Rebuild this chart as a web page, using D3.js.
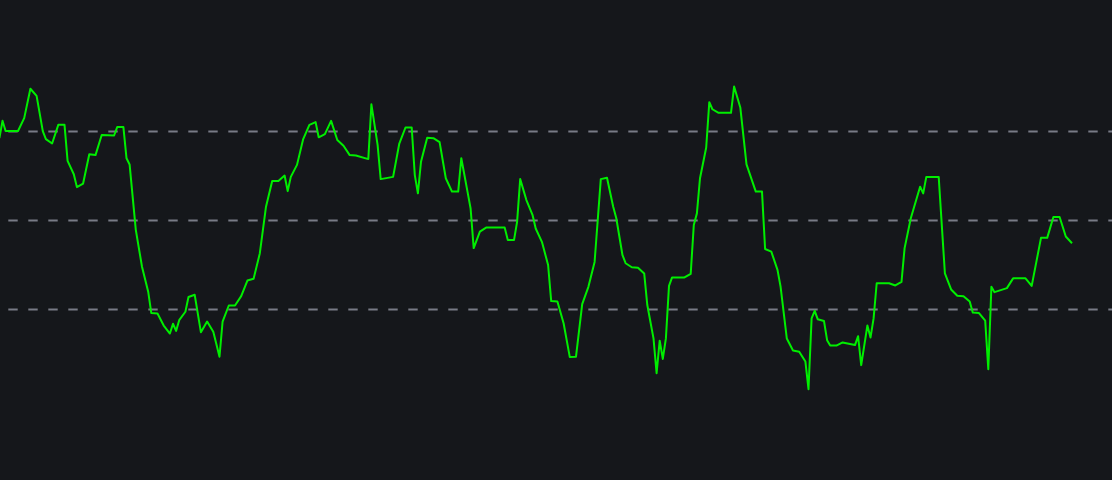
<!DOCTYPE html>
<html>
<head>
<meta charset="utf-8">
<script src="https://cdn.jsdelivr.net/npm/d3@7"></script>
<style>
  html, body { margin: 0; padding: 0; background: #15171b; overflow: hidden; }
  svg { display: block; }
</style>
</head>
<body>
<div id="chart"></div>
<script>
// RSI readings, keyed by bar number (only the turning points of the line)
const bars = [
  0, 1, 2, 6, 8, 10, 12, 14, 15, 17, 19, 21, 22, 24, 25, 27, 29, 31, 33, 37,
  38, 40, 41, 42, 44, 46, 48, 49, 51, 53, 55, 56, 57, 58, 60, 61, 63, 65, 67, 69,
  71, 72, 74, 76, 78, 80, 82, 84, 86, 88, 90, 92, 93, 94, 96, 98, 100, 102, 103, 105,
  107, 109, 111, 113, 115, 119, 120, 122, 123, 127, 129, 131, 133, 134, 135, 136, 138, 140, 142, 144,
  146, 148, 149, 151, 152, 153, 155, 157, 163, 164, 166, 167, 168, 170, 172, 173, 175, 177, 178, 180,
  182, 184, 186, 188, 190, 192, 194, 196, 198, 199, 201, 202, 204, 206, 208, 209, 211, 212, 213, 214,
  215, 216, 217, 221, 223, 224, 225, 226, 228, 229, 230, 232, 236, 237, 239, 241, 244, 246, 247, 249,
  251, 252, 254, 256, 258, 260, 261, 262, 263, 264, 266, 267, 268, 270, 272, 276, 277, 278, 280, 281,
  282, 283, 287, 289, 291, 292, 294, 297, 298, 299, 303, 305, 307, 309, 311, 313, 314, 316, 318, 319,
  320, 321, 325, 327, 331, 333, 336, 338, 340, 342, 344, 346
];
const rsi = [
  68.5, 72.4, 70.1, 70.1, 73.0, 79.6, 78.0, 70.1, 68.3, 67.3, 71.5, 71.5, 63.4, 60.4, 57.5, 58.3, 64.9, 64.7, 69.2, 69.1,
  71.0, 71.0, 64.0, 62.6, 47.9, 39.6, 34.0, 29.2, 29.1, 26.4, 24.6, 26.8, 25.2, 27.6, 29.5, 32.8, 33.3, 24.9, 27.3, 25.0,
  19.4, 27.3, 30.9, 30.9, 33.0, 36.5, 36.9, 42.6, 53.1, 58.9, 58.9, 60.1, 56.6, 59.8, 62.5, 68.3, 71.5, 72.1, 68.7, 69.4,
  72.4, 68.1, 66.8, 64.7, 64.6, 63.8, 76.1, 67.0, 59.3, 59.8, 67.3, 70.9, 70.9, 60.2, 56.1, 63.2, 68.6, 68.5, 67.6, 59.5,
  56.5, 56.5, 64.0, 56.5, 52.7, 43.8, 47.5, 48.4, 48.4, 45.6, 45.6, 49.7, 59.3, 54.6, 51.2, 48.2, 45.2, 40.0, 31.9, 31.8,
  26.9, 19.3, 19.4, 31.2, 35.1, 40.7, 59.3, 59.6, 53.1, 50.5, 42.2, 40.4, 39.5, 39.4, 38.1, 31.0, 23.5, 15.7, 23.0, 18.9,
  23.5, 35.3, 37.2, 37.2, 38.0, 49.0, 51.6, 59.5, 66.4, 76.6, 75.0, 74.2, 74.2, 80.1, 75.4, 62.6, 56.5, 56.5, 43.6, 43.0,
  38.9, 35.1, 23.5, 20.8, 20.5, 18.3, 12.1, 28.0, 29.7, 27.8, 27.4, 23.1, 21.9, 21.9, 22.6, 22.0, 24.0, 17.5, 26.4, 23.7,
  28.0, 35.9, 35.9, 35.4, 36.2, 43.8, 50.5, 57.6, 56.1, 59.8, 59.8, 38.1, 34.5, 33.1, 33.0, 31.8, 29.3, 29.2, 27.5, 16.6,
  35.1, 33.9, 34.8, 37.0, 37.0, 35.3, 46.1, 46.1, 50.8, 50.8, 46.4, 44.9
];
// reference levels
const levels = [70, 50, 30];

const width = 1112, height = 480;

const svg = d3.select('#chart').append('svg')
  .attr('width', width)
  .attr('height', height);

svg.append('rect')
  .attr('width', width)
  .attr('height', height)
  .attr('fill', '#15171b');

// 3.1 px per bar, bar 0 sits just left of the edge
const x = d3.scaleLinear()
  .domain([0, 360])
  .range([-0.6, -0.6 + 360 * 3.1]);

// 70 -> 131.5, 30 -> 309.5
const y = d3.scaleLinear()
  .domain([30, 70])
  .range([309.5, 131.5]);

svg.selectAll('line.level')
  .data(levels)
  .enter().append('line')
  .attr('class', 'level')
  .attr('x1', 8.3)
  .attr('x2', width)
  .attr('y1', d => Math.round(y(d)) - 0.5)
  .attr('y2', d => Math.round(y(d)) - 0.5)
  .attr('stroke', '#787b86')
  .attr('stroke-width', 2)
  .attr('stroke-dasharray', '9.4,10.6');

const points = bars.map((b, i) => ({ bar: b, value: rsi[i] }));

const line = d3.line()
  .x(d => x(d.bar))
  .y(d => y(d.value));

svg.append('path')
  .datum(points)
  .attr('fill', 'none')
  .attr('stroke', '#00ee00')
  .attr('stroke-width', 2)
  .attr('stroke-linejoin', 'round')
  .attr('d', line);
</script>
</body>
</html>
